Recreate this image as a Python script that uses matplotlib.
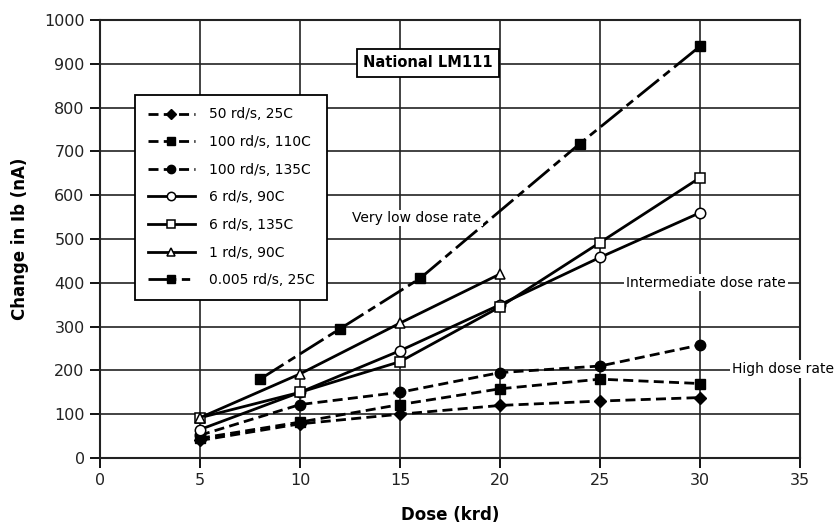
import matplotlib.pyplot as plt

# dose in krd and change in input bias current (nA) per irradiation condition
dose_high = [5, 10, 15, 20, 25, 30]
ib_50_25 = [40, 78, 100, 120, 130, 138]
ib_100_110 = [45, 82, 122, 158, 180, 170]
ib_100_135 = [52, 122, 150, 195, 210, 258]
ib_6_90 = [65, 150, 245, 350, 458, 560]
ib_6_135 = [92, 150, 220, 345, 492, 640]

dose_1 = [5, 10, 15, 20]
ib_1_90 = [92, 192, 308, 420]

dose_low = [8, 12, 16, 24, 30]
ib_005_25 = [180, 295, 410, 718, 940]

labels = ["50 rd/s, 25C", "100 rd/s, 110C", "100 rd/s, 135C", "6 rd/s, 90C",
          "6 rd/s, 135C", "1 rd/s, 90C", "0.005 rd/s, 25C"]
x_ticks = [0, 5, 10, 15, 20, 25, 30, 35]
y_ticks = [0, 100, 200, 300, 400, 500, 600, 700, 800, 900, 1000]

plt.rcParams['font.family'] = ['DejaVu Sans']

fig = plt.figure(figsize=(8.38, 5.32), dpi=100)
ax = fig.add_axes([100 / 838, 1 - 458 / 532, 700 / 838, 438 / 532])

dash = (0, (3.6, 1.9))
dashdot = (0, (10, 2, 3, 2))
lw = 2.0
ms = 7.5

ax.plot(dose_high, ib_50_25, linestyle=dash, color='black', lw=lw, marker='D', ms=6.5,
        mfc='black', mec='black', label=labels[0], zorder=3)
ax.plot(dose_high, ib_100_110, linestyle=dash, color='black', lw=lw, marker='s', ms=ms,
        mfc='black', mec='black', label=labels[1], zorder=3)
ax.plot(dose_high, ib_100_135, linestyle=dash, color='black', lw=lw, marker='o', ms=ms,
        mfc='black', mec='black', label=labels[2], zorder=3)
ax.plot(dose_high, ib_6_90, linestyle='-', color='black', lw=lw, marker='o', ms=ms,
        mfc='white', mec='black', mew=1.1, label=labels[3], zorder=3)
ax.plot(dose_high, ib_6_135, linestyle='-', color='black', lw=lw, marker='s', ms=ms,
        mfc='white', mec='black', mew=1.1, label=labels[4], zorder=3)
ax.plot(dose_1, ib_1_90, linestyle='-', color='black', lw=lw, marker='^', ms=ms,
        mfc='white', mec='black', mew=1.1, label=labels[5], zorder=3)
ax.plot(dose_low, ib_005_25, linestyle=dashdot, color='black', lw=lw, marker='s', ms=ms,
        mfc='black', mec='black', label=labels[6], zorder=3)

ax.set_xlim(0, 35)
ax.set_ylim(0, 1000)
ax.set_xticks(x_ticks)
ax.set_yticks(y_ticks)
ax.tick_params(axis='both', direction='out', length=7, width=1.3, labelsize=11.5,
               color='black', labelcolor='#222222', pad=4)
ax.grid(True, color='#222222', lw=1.2)
ax.set_axisbelow(True)
for s in ax.spines.values():
    s.set_linewidth(1.5)
    s.set_color('#222222')

ax.set_xlabel("Dose (krd)", fontsize=12, fontweight='bold', labelpad=13)
ax.set_ylabel("Change in Ib (nA)", fontsize=12, fontweight='bold', labelpad=11)

leg = ax.legend(loc='upper left', bbox_to_anchor=(135 / 838, 1 - 95 / 532),
                bbox_transform=fig.transFigure, borderaxespad=0, fontsize=10,
                handlelength=3.4, handletextpad=1.0, labelspacing=0.98,
                borderpad=0.9, markerscale=0.8, fancybox=False, framealpha=1,
                edgecolor='black')
leg.get_frame().set_linewidth(1.3)
leg.set_zorder(5)

ax.text(16.4, 902, "National LM111", ha='center', va='center', fontsize=10.5,
        fontweight='bold', zorder=6,
        bbox=dict(boxstyle='square,pad=0.45', fc='white', ec='black', lw=1.3))

ax.text(15.85, 548, "Very low dose rate", ha='center', va='center', fontsize=10,
        zorder=4, bbox=dict(boxstyle='square,pad=0.1', fc='white', ec='none'))
ax.text(30.3, 400, "Intermediate dose rate", ha='center', va='center', fontsize=10,
        zorder=4, bbox=dict(boxstyle='square,pad=0.12', fc='white', ec='none'))
ax.text(31.6, 203, "High dose rate", ha='left', va='center', fontsize=10,
        zorder=6, clip_on=False,
        bbox=dict(boxstyle='square,pad=0.15', fc='white', ec='none'))

fig.savefig("out.png", dpi=100)
